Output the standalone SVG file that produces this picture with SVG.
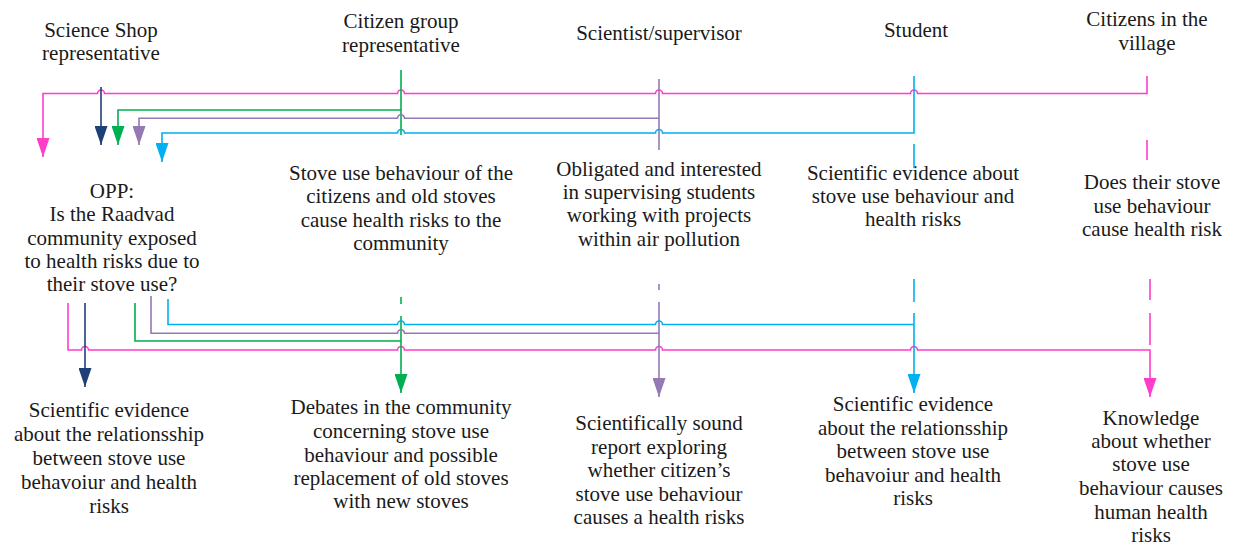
<svg xmlns="http://www.w3.org/2000/svg" width="1233" height="545" viewBox="0 0 1233 545">
  <style>
    text { font-family: "Liberation Serif", "Times New Roman", serif; font-size: 21px; fill: #1a1a1a; text-anchor: middle; }
    .ln { fill: none; stroke-width: 1.6; }
    .pink { stroke: #FF3DCB; }
    .navy { stroke: #1F3F77; }
    .green { stroke: #00B050; }
    .purple { stroke: #9479B4; }
    .cyan { stroke: #00B0F0; }
  </style>
  <defs>
    <marker id="ah-pink" markerUnits="userSpaceOnUse" markerWidth="19" markerHeight="13" refX="19" refY="6.5" orient="auto"><path d="M0,0 L19,6.5 L0,13 z" fill="#FF3DCB"/></marker>
    <marker id="ah-navy" markerUnits="userSpaceOnUse" markerWidth="19" markerHeight="13" refX="19" refY="6.5" orient="auto"><path d="M0,0 L19,6.5 L0,13 z" fill="#1F3F77"/></marker>
    <marker id="ah-green" markerUnits="userSpaceOnUse" markerWidth="19" markerHeight="13" refX="19" refY="6.5" orient="auto"><path d="M0,0 L19,6.5 L0,13 z" fill="#00B050"/></marker>
    <marker id="ah-purple" markerUnits="userSpaceOnUse" markerWidth="19" markerHeight="13" refX="19" refY="6.5" orient="auto"><path d="M0,0 L19,6.5 L0,13 z" fill="#9479B4"/></marker>
    <marker id="ah-cyan" markerUnits="userSpaceOnUse" markerWidth="19" markerHeight="13" refX="19" refY="6.5" orient="auto"><path d="M0,0 L19,6.5 L0,13 z" fill="#00B0F0"/></marker>
  </defs>
  <rect width="1233" height="545" fill="#ffffff"/>

  <!-- actors -->
  <g id="actor-science-shop">
    <text x="101" y="37">Science Shop</text>
    <text x="101" y="60">representative</text>
  </g>
  <g id="actor-citizen-group">
    <text x="401" y="28">Citizen group</text>
    <text x="401" y="52">representative</text>
  </g>
  <g id="actor-scientist">
    <text x="659" y="40">Scientist/supervisor</text>
  </g>
  <g id="actor-student">
    <text x="916" y="37">Student</text>
  </g>
  <g id="actor-citizens">
    <text x="1147" y="26">Citizens in the</text>
    <text x="1147" y="50">village</text>
  </g>

  <!-- interests -->
  <g id="opp">
    <text x="112" y="198">OPP:</text>
    <text x="112" y="221">Is the Raadvad</text>
    <text x="112" y="245">community exposed</text>
    <text x="112" y="268">to health risks due to</text>
    <text x="112" y="291">their stove use?</text>
  </g>
  <g id="interest-citizen-group">
    <text x="401" y="180">Stove use behaviour of the</text>
    <text x="401" y="203">citizens and old stoves</text>
    <text x="401" y="227">cause health risks to the</text>
    <text x="401" y="250">community</text>
  </g>
  <g id="interest-scientist">
    <text x="659" y="176">Obligated and interested</text>
    <text x="659" y="199">in supervising students</text>
    <text x="659" y="222">working with projects</text>
    <text x="659" y="246">within air pollution</text>
  </g>
  <g id="interest-student">
    <text x="913" y="180">Scientific evidence about</text>
    <text x="913" y="203">stove use behaviour and</text>
    <text x="913" y="226">health risks</text>
  </g>
  <g id="interest-citizens">
    <text x="1152" y="189">Does their stove</text>
    <text x="1152" y="213">use behaviour</text>
    <text x="1152" y="236">cause health risk</text>
  </g>

  <!-- outcomes -->
  <g id="outcome-science-shop">
    <text x="109" y="417">Scientific evidence</text>
    <text x="109" y="441">about the relationsship</text>
    <text x="109" y="465">between stove use</text>
    <text x="109" y="489">behavoiur and health</text>
    <text x="109" y="513">risks</text>
  </g>
  <g id="outcome-citizen-group">
    <text x="401" y="414">Debates in the community</text>
    <text x="401" y="438">concerning stove use</text>
    <text x="401" y="462">behaviour and possible</text>
    <text x="401" y="485">replacement of old stoves</text>
    <text x="401" y="508">with new stoves</text>
  </g>
  <g id="outcome-scientist">
    <text x="659" y="430">Scientifically sound</text>
    <text x="659" y="454">report exploring</text>
    <text x="659" y="477">whether citizen’s</text>
    <text x="659" y="501">stove use behaviour</text>
    <text x="659" y="524">causes a health risks</text>
  </g>
  <g id="outcome-student">
    <text x="913" y="411">Scientific evidence</text>
    <text x="913" y="435">about the relationsship</text>
    <text x="913" y="458">between stove use</text>
    <text x="913" y="482">behavoiur and health</text>
    <text x="913" y="505">risks</text>
  </g>
  <g id="outcome-citizens">
    <text x="1151" y="425">Knowledge</text>
    <text x="1151" y="448">about whether</text>
    <text x="1151" y="471">stove use</text>
    <text x="1151" y="495">behaviour causes</text>
    <text x="1151" y="519">human health</text>
    <text x="1151" y="542">risks</text>
  </g>

  <!-- connectors -->
  <g id="connectors">
    <!-- upper bundle: actors to OPP -->
    <path class="ln pink" d="M1147,76 V94"/>
    <path class="ln pink" d="M1147,140 V160"/>
    <path class="ln pink" marker-end="url(#ah-pink)" d="M1147,93.5 H917.5 A3.5,3.5 0 0 0 910.5,93.5 H662.5 A3.5,3.5 0 0 0 655.5,93.5 H404.5 A3.5,3.5 0 0 0 397.5,93.5 H104.5 A3.5,3.5 0 0 0 97.5,93.5 H43 V157"/>
    <path class="ln navy" marker-end="url(#ah-navy)" d="M101,87 V145"/>
    <path class="ln green" d="M401,70 V135"/>
    <path class="ln green" marker-end="url(#ah-green)" d="M401,110 H118 V145"/>
    <path class="ln purple" d="M659,79 V150"/>
    <path class="ln purple" marker-end="url(#ah-purple)" d="M659,118.3 H404.5 A3.5,3.5 0 0 0 397.5,118.3 H139 V145"/>
    <path class="ln cyan" marker-end="url(#ah-cyan)" d="M914,76 V133 H662.5 A3.5,3.5 0 0 0 655.5,133 H404.5 A3.5,3.5 0 0 0 397.5,133 H162 V162"/>
    <path class="ln cyan" d="M914,144 V168"/>

    <!-- lower bundle: OPP to outcomes -->
    <path class="ln pink" d="M1150,279 V300"/>
    <path class="ln pink" d="M1150,313 V345"/>
    <path class="ln pink" marker-end="url(#ah-pink)" d="M68,303 V350 H81.5 A3.5,3.5 0 0 1 88.5,350 H397.5 A3.5,3.5 0 0 1 404.5,350 H655.5 A3.5,3.5 0 0 1 662.5,350 H910.5 A3.5,3.5 0 0 1 917.5,350 H1150 V397"/>
    <path class="ln navy" marker-end="url(#ah-navy)" d="M85,303 V387"/>
    <path class="ln green" d="M135,303 V341 H401"/>
    <path class="ln green" d="M401,297 V304"/>
    <path class="ln green" marker-end="url(#ah-green)" d="M401,316 V393"/>
    <path class="ln purple" d="M151,296 V333.3 H397.5 A3.5,3.5 0 0 1 404.5,333.3 H659"/>
    <path class="ln purple" d="M659,284 V290"/>
    <path class="ln purple" marker-end="url(#ah-purple)" d="M659,302 V397"/>
    <path class="ln cyan" d="M168,299 V324.5 H397.5 A3.5,3.5 0 0 1 404.5,324.5 H655.5 A3.5,3.5 0 0 1 662.5,324.5 H914"/>
    <path class="ln cyan" d="M914,279 V302"/>
    <path class="ln cyan" marker-end="url(#ah-cyan)" d="M914,313 V393"/>
  </g>
</svg>
